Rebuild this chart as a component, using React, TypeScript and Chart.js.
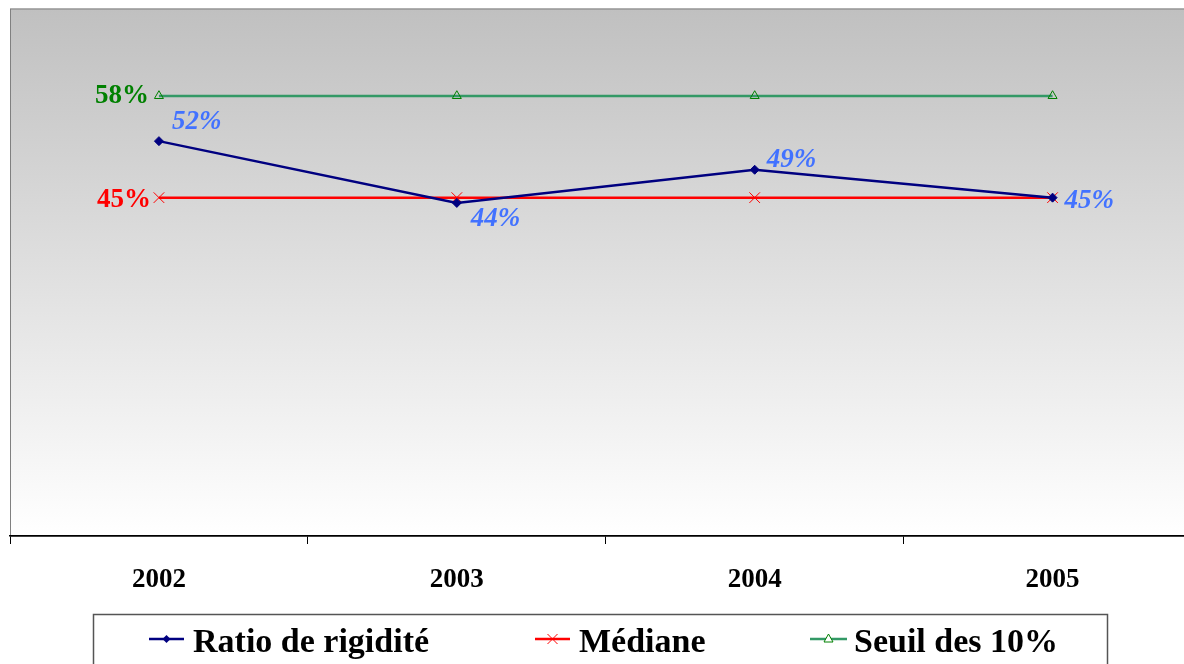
import React, { useEffect, useRef } from "react";
import { Chart, registerables } from "chart.js";

Chart.register(...registerables);

const years = ["2002", "2003", "2004", "2005"];
const ratioValues = [52.4, 44.2, 48.6, 44.9];
const medianValues = [44.9, 44.9, 44.9, 44.9];
const seuilValues = [58.4, 58.4, 58.4, 58.4];
const seriesNames = ["Ratio de rigidité", "Médiane", "Seuil des 10%"];
const Y_MIN = 0;
const Y_MAX = 70;

const SERIF = "'Liberation Serif', 'Times New Roman', serif";

const bgPlugin = {
  id: "bgPlugin",
  beforeDraw(chart: any) {
    const { ctx, chartArea: a } = chart;
    ctx.save();
    const g = ctx.createLinearGradient(0, a.top, 0, a.bottom);
    g.addColorStop(0, "#c0c0c0");
    g.addColorStop(1, "#ffffff");
    ctx.fillStyle = g;
    ctx.fillRect(a.left, a.top, a.right - a.left, a.bottom - a.top);
    ctx.strokeStyle = "#808080";
    ctx.lineWidth = 1;
    ctx.strokeRect(a.left + 0.5, a.top + 0.5, a.right - a.left - 1, a.bottom - a.top);
    ctx.restore();
  },
};

const labelPlugin = {
  id: "labelPlugin",
  afterDatasetsDraw(chart: any) {
    const { ctx } = chart;
    ctx.save();
    ctx.textBaseline = "middle";
    const m0 = chart.getDatasetMeta(0);
    const offs = [
      [13, -19],
      [14, 16],
      [12, -10],
      [12, 3],
    ];
    ctx.font = `italic bold 27px ${SERIF}`;
    ctx.fillStyle = "#4272ff";
    ctx.textAlign = "left";
    m0.data.forEach((p: any, i: number) => {
      ctx.fillText(Math.round(ratioValues[i]) + "%", p.x + offs[i][0], p.y + offs[i][1]);
    });
    ctx.font = `bold 27px ${SERIF}`;
    ctx.textAlign = "right";
    const p2 = chart.getDatasetMeta(2).data[0];
    ctx.fillStyle = "#008000";
    ctx.fillText(Math.round(seuilValues[0]) + "%", p2.x - 10, p2.y);
    const p1 = chart.getDatasetMeta(1).data[0];
    ctx.fillStyle = "#ff0000";
    ctx.fillText(Math.round(medianValues[0]) + "%", p1.x - 8, p1.y + 2);
    ctx.restore();
  },
};

function drawMarker(ctx: any, kind: string, x: number, y: number) {
  ctx.save();
  if (kind === "diamond") {
    ctx.fillStyle = "#000080";
    ctx.beginPath();
    ctx.moveTo(x, y - 4);
    ctx.lineTo(x + 4, y);
    ctx.lineTo(x, y + 4);
    ctx.lineTo(x - 4, y);
    ctx.closePath();
    ctx.fill();
  } else if (kind === "x") {
    ctx.strokeStyle = "#ff0000";
    ctx.lineWidth = 1;
    ctx.beginPath();
    ctx.moveTo(x - 5, y - 5);
    ctx.lineTo(x + 5, y + 5);
    ctx.moveTo(x + 5, y - 5);
    ctx.lineTo(x - 5, y + 5);
    ctx.stroke();
  } else {
    ctx.strokeStyle = "#008000";
    ctx.fillStyle = "#ffffff";
    ctx.lineWidth = 1;
    ctx.beginPath();
    ctx.moveTo(x, y - 5);
    ctx.lineTo(x + 4.5, y + 3);
    ctx.lineTo(x - 4.5, y + 3);
    ctx.closePath();
    ctx.fill();
    ctx.stroke();
  }
  ctx.restore();
}

const legendPlugin = {
  id: "customLegend",
  afterDraw(chart: any) {
    const { ctx } = chart;
    ctx.save();
    ctx.strokeStyle = "#555555";
    ctx.lineWidth = 1.5;
    ctx.strokeRect(93.5, 614.5, 1014, 120);
    const items = [
      { x1: 149, x2: 184, tx: 193, color: "#000080", width: 2.5, kind: "diamond" },
      { x1: 535, x2: 570, tx: 579, color: "#ff0000", width: 2.5, kind: "x" },
      { x1: 810, x2: 847, tx: 854, color: "#339966", width: 2.5, kind: "tri" },
    ];
    const ly = 639;
    items.forEach((it, i) => {
      ctx.strokeStyle = it.color;
      ctx.lineWidth = it.width;
      ctx.beginPath();
      ctx.moveTo(it.x1, ly);
      ctx.lineTo(it.x2, ly);
      ctx.stroke();
      drawMarker(ctx, it.kind, (it.x1 + it.x2) / 2, ly);
      ctx.fillStyle = "#000000";
      ctx.font = `bold 34px ${SERIF}`;
      ctx.textAlign = "left";
      ctx.textBaseline = "middle";
      ctx.fillText(seriesNames[i], it.tx, ly + 4);
    });
    ctx.restore();
  },
};

export default function App() {
  const ref = useRef<HTMLCanvasElement>(null);
  useEffect(() => {
    if (!ref.current) return;
    const chart = new Chart(ref.current, {
      type: "line",
      data: {
        labels: years,
        datasets: [
          {
            label: seriesNames[0],
            data: ratioValues,
            borderColor: "#000080",
            backgroundColor: "#000080",
            borderWidth: 2.5,
            pointStyle: "rectRot",
            pointRadius: 4.5,
            pointBorderWidth: 1,
            tension: 0,
          },
          {
            label: seriesNames[1],
            data: medianValues,
            borderColor: "#ff0000",
            backgroundColor: "#ff0000",
            borderWidth: 2.5,
            pointStyle: "crossRot",
            pointRadius: 7.5,
            pointBorderWidth: 1,
            tension: 0,
          },
          {
            label: seriesNames[2],
            data: seuilValues,
            borderColor: "#339966",
            backgroundColor: "rgba(255,255,255,0)",
            borderWidth: 2.5,
            pointStyle: "triangle",
            pointRadius: 5.2,
            pointBorderColor: "#008000",
            pointBackgroundColor: "rgba(0,0,0,0)",
            pointBorderWidth: 1,
            tension: 0,
          },
        ],
      },
      options: {
        animation: false,
        responsive: false,
        devicePixelRatio: 1,
        layout: { padding: { left: 10, top: 7, right: 8, bottom: 0 } },
        plugins: {
          legend: { display: false },
          tooltip: { enabled: false },
        },
        scales: {
          x: {
            type: "category",
            offset: true,
            afterFit(scale: any) {
              scale.height = 128;
            },
            grid: {
              offset: true,
              drawOnChartArea: false,
              drawTicks: true,
              tickLength: 8,
              color: "#000000",
              lineWidth: 1,
            },
            border: { display: true, color: "#000000", width: 1.5 },
            ticks: {
              color: "#000000",
              padding: 20,
              font: { family: SERIF, weight: "bold", size: 27 },
              maxRotation: 0,
            },
          },
          y: {
            display: false,
            min: Y_MIN,
            max: Y_MAX,
          },
        },
      },
      plugins: [bgPlugin, labelPlugin, legendPlugin],
    });
    return () => chart.destroy();
  }, []);
  return (
    <div
      style={{
        position: "fixed",
        left: 0,
        top: 0,
        width: 1184,
        height: 664,
        overflow: "hidden",
        background: "#ffffff",
      }}
    >
      <canvas ref={ref} width={1210} height={664} style={{ display: "block" }} />
    </div>
  );
}
